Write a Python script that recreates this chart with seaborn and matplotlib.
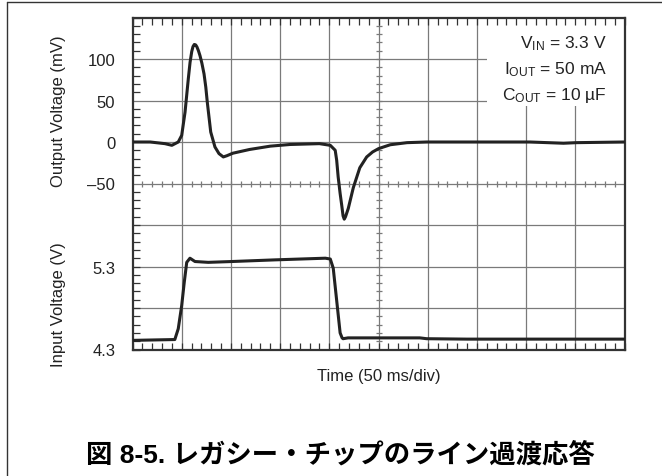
import numpy as np
import matplotlib.pyplot as plt
import seaborn as sns
from matplotlib.patches import Rectangle
from matplotlib.lines import Line2D
from matplotlib.ticker import MultipleLocator

# output voltage trace (time in ms, 50 ms/div; voltage in mV)
t_out = [0, 18, 33, 40, 46.5, 50, 53.4, 56.7, 58.5, 60.2,
         61.5, 62.8, 64.2, 65.5, 67, 68.6, 70.5, 72.7, 74.5, 76,
         79.5, 83.8, 87.9, 92.3, 96, 102, 119, 140, 160, 190,
         201, 206, 207.5, 209, 211, 212.6, 214, 215.2, 216.5, 219.3,
         224.4, 231, 238, 244, 250, 262, 279, 299, 404, 438,
         451, 500]
v_out = [0, 0, -2, -4, 0, 8, 36, 76, 96, 109,
         115, 117.5, 117, 114.5, 110, 104, 95, 82, 66, 48,
         12, -6, -14, -18, -16.5, -13.5, -9, -5, -3, -2,
         -4, -10, -22, -42, -62, -76, -89, -93, -90, -80,
         -55, -31, -18, -12, -8, -3.3, -0.8, 0, 0, -1.5,
         -0.8, 0]

# input voltage trace (V)
t_in = [0, 43, 46.5, 50, 52.6, 55.1, 58.4, 63.5, 77, 101,
        145, 196, 201, 204, 207.5, 211, 213, 214, 219, 292,
        299, 340, 500]
v_in = [4.41, 4.42, 4.55, 4.83, 5.11, 5.35, 5.40, 5.36, 5.35, 5.36,
        5.38, 5.40, 5.39, 5.28, 4.89, 4.50, 4.44, 4.43, 4.44, 4.44,
        4.43, 4.425, 4.425]

out_ticks = [-50, 0, 50, 100]
out_labels = ["\u201350", "0", "50", "100"]
in_ticks = [4.3, 5.3]
in_labels = ["4.3", "5.3"]

conditions = ["V$_{\\mathregular{IN}}$ = 3.3 V",
              "I$_{\\mathregular{OUT}}$ = 50 mA",
              "C$_{\\mathregular{OUT}}$ = 10 \u00b5F"]
title = "図 8-5. レガシー・チップのライン過渡応答"

sns.set_style("ticks")
plt.rcParams['font.family'] = ['Liberation Sans', 'Noto Sans CJK JP']
plt.rcParams['mathtext.default'] = 'regular'

ink = '#222222'
frame_c = '#333333'
grid_c = '#7a7a7a'

fig = plt.figure(figsize=(6.62, 4.77), dpi=100)
ax1 = fig.add_axes([132.5 / 662, 1 - 350.5 / 477, 492 / 662, 332 / 477])
ax1.set_xlim(0, 500)
ax1.set_ylim(-250, 150)
ax1.set_axisbelow(False)

# scope graticule
for x in np.arange(50, 500, 50):
    ax1.axvline(x, color=grid_c, lw=0.9, zorder=1)
for y in np.arange(-200, 150, 50):
    ax1.axhline(y, color=grid_c, lw=0.9, zorder=1)
cx = np.arange(10, 500, 10)
ax1.plot(cx, np.full(len(cx), -50), ls='none', marker='|', ms=4.5, mew=0.9,
         color=grid_c, zorder=1.2)
cy = np.arange(-240, 150, 10)
ax1.plot(np.full(len(cy), 250), cy, ls='none', marker='_', ms=4.5, mew=0.9,
         color=grid_c, zorder=1.2)

ax1.add_patch(Rectangle((0.72, 0.734), 0.28, 0.266, transform=ax1.transAxes,
                        fc='white', ec='none', zorder=1.5))

sns.lineplot(x=t_out, y=v_out, ax=ax1, color=ink, lw=2.2, zorder=3)

ax1.set_xticks([])
ax1.xaxis.set_minor_locator(MultipleLocator(10))
ax1.set_yticks(out_ticks)
ax1.set_yticklabels(out_labels)
ax1.yaxis.set_minor_locator(MultipleLocator(10))
ax1.tick_params(which='major', length=0, pad=12.5, labelsize=12, labelcolor=ink)
ax1.tick_params(which='minor', direction='in', length=5, width=0.9, color=frame_c,
                left=True, right=True, top=True, bottom=True)
for s in ax1.spines.values():
    s.set_linewidth(1.6)
    s.set_color(frame_c)
ax1.set_xlabel('')
ax1.set_ylabel('')

ax2 = ax1.twinx()
ax2.set_ylim(4.3, 8.3)
sns.lineplot(x=t_in, y=v_in, ax=ax2, color=ink, lw=2.2, zorder=3)
ax2.yaxis.tick_left()
ax2.set_yticks(in_ticks)
ax2.set_yticklabels(in_labels)
ax2.tick_params(which='both', length=0, pad=12.5, labelsize=12, labelcolor=ink,
                right=False)
ax2.set_ylabel('')
for s in ax2.spines.values():
    s.set_visible(False)

for i, txt in enumerate(conditions):
    ax1.text(0.964, 0.925 - 0.079 * i, txt, transform=ax1.transAxes, ha='right',
             va='center', fontsize=12.5, color=ink, zorder=4)

fig.text(59 / 662, 1 - 111 / 477, 'Output Voltage (mV)', rotation=90,
         ha='center', va='center', fontsize=12, color=ink)
fig.text(59 / 662, 1 - 305 / 477, 'Input Voltage (V)', rotation=90,
         ha='center', va='center', fontsize=12, color=ink)
fig.text(378.5 / 662, 1 - 377 / 477, 'Time (50 ms/div)', ha='center',
         va='center', fontsize=12, color=ink)
fig.text(340 / 662, 1 - 455 / 477, title, ha='center', va='center',
         fontsize=19, fontweight='bold', color='black')

fig.add_artist(Line2D([6.5 / 662, 1], [1 - 3 / 477, 1 - 3 / 477],
                      transform=fig.transFigure, color=frame_c, lw=1))
fig.add_artist(Line2D([6.5 / 662, 6.5 / 662], [0, 1 - 3 / 477],
                      transform=fig.transFigure, color=frame_c, lw=1))

fig.savefig('out.png', dpi=100)
